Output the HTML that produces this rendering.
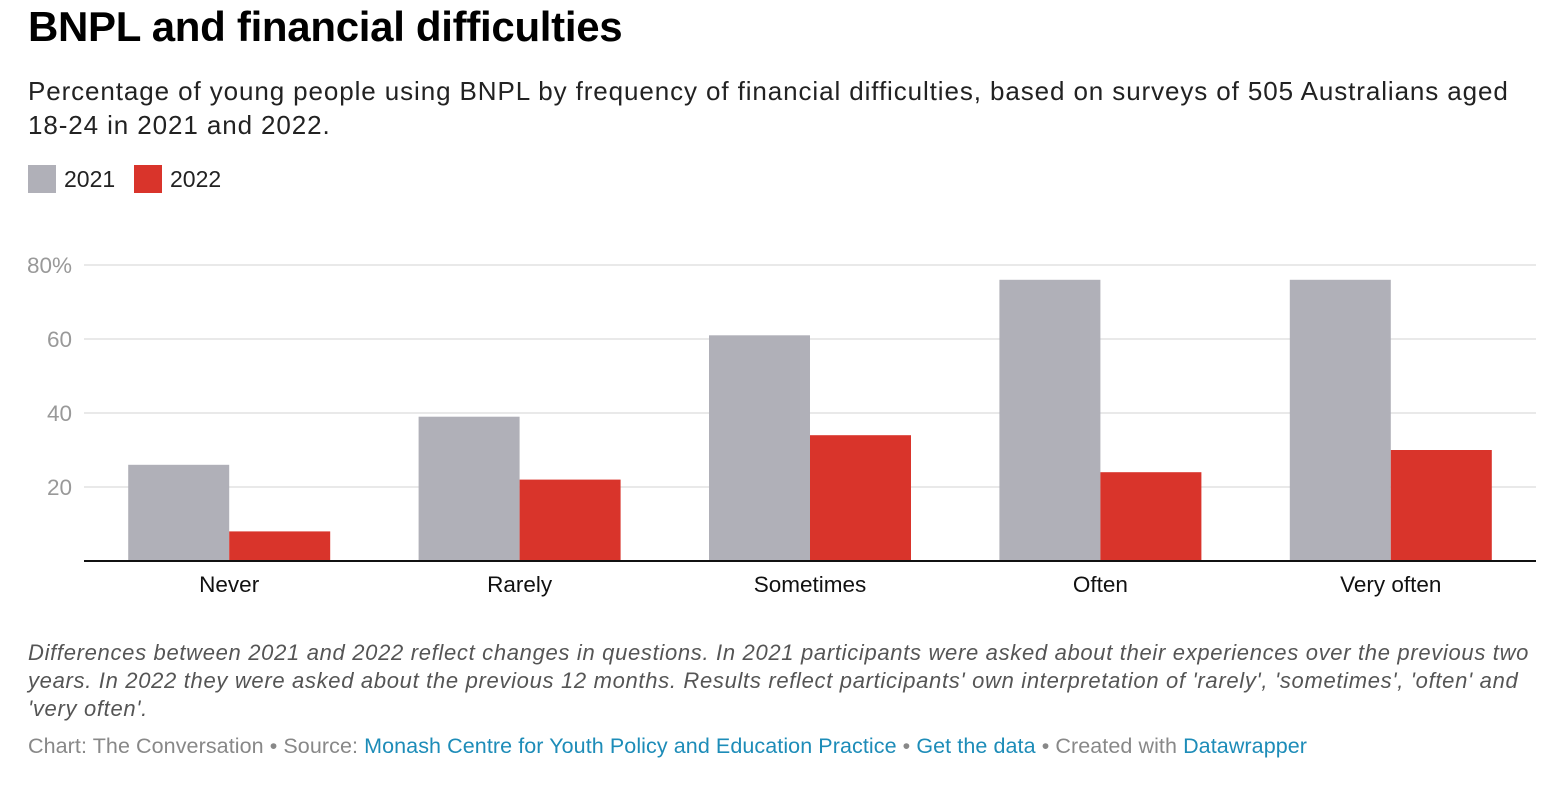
<!DOCTYPE html>
<html><head><meta charset="utf-8"><style>
body{margin:0;width:1566px;height:798px;background:#fff;font-family:"Liberation Sans",sans-serif;position:relative;overflow:hidden}
.t{position:absolute;left:28px;top:3px;font-size:42px;font-weight:bold;color:#000;letter-spacing:-0.3px;white-space:nowrap}
.s{position:absolute;left:28px;top:74px;width:1530px;font-size:26px;line-height:34px;color:#222;white-space:nowrap;letter-spacing:0.9px}
.lg{position:absolute;top:165px;font-size:23px;color:#222;display:flex;align-items:center}
.sw{width:28px;height:28px;margin-right:8px}
.n{position:absolute;left:28px;top:639px;width:1530px;font-size:22px;line-height:28px;font-style:italic;color:#555;letter-spacing:0.68px;white-space:nowrap}
.f{position:absolute;left:28px;top:734px;font-size:21.5px;color:#888;letter-spacing:0.08px;white-space:nowrap}
.f a{color:#1d8cb8;text-decoration:none}
</style></head><body>
<div class="t">BNPL and financial difficulties</div>
<div class="s">Percentage of young people using BNPL by frequency of financial difficulties, based on surveys of 505 Australians aged<br>18-24 in 2021 and 2022.</div>
<div class="lg" style="left:28px"><div class="sw" style="background:#b0b0b8"></div>2021</div>
<div class="lg" style="left:134px"><div class="sw" style="background:#d9342b"></div>2022</div>
<svg id="c" width="1566" height="798" style="position:absolute;left:0;top:0"></svg>
<div class="n">Differences between 2021 and 2022 reflect changes in questions. In 2021 participants were asked about their experiences over the previous two<br>years. In 2022 they were asked about the previous 12 months. Results reflect participants' own interpretation of 'rarely', 'sometimes', 'often' and<br>'very often'.</div>
<div class="f">Chart: The Conversation • Source: <a>Monash Centre for Youth Policy and Education Practice</a> • <a>Get the data</a> • Created with <a>Datawrapper</a></div>
<script>
const categories=["Never","Rarely","Sometimes","Often","Very often"];
const values2021=[26,39,61,76,76];
const values2022=[8,22,34,24,30];
const ticks=[20,40,60,80];
const tickLabels=["20","40","60","80%"];
const svg=document.getElementById('c');
const NS='http://www.w3.org/2000/svg';
const x0=84,x1=1536,yBase=561,yTop=265,vMax=80;
const y=v=>yBase-(yBase-yTop)*v/vMax;
const band=(x1-x0)/categories.length;
const bw=101;
function mk(t,a){const e=document.createElementNS(NS,t);for(const k in a)e.setAttribute(k,a[k]);svg.appendChild(e);return e;}
ticks.forEach((t,i)=>{
const l=mk('line',{x1:x0,x2:x1,y1:y(t),y2:y(t),stroke:'#e2e2e2','stroke-width':1.5});


const tx=mk('text',{x:72,y:y(t)+8,'text-anchor':'end','font-size':22.5,fill:'#999','font-family':'Liberation Sans, sans-serif'});
tx.textContent=tickLabels[i];


});
categories.forEach((c,i)=>{
const cx=x0+band*(i+0.5);
const a=mk('rect',{x:cx-bw,y:y(values2021[i]),width:bw,height:yBase-y(values2021[i]),fill:'#b0b0b8'});


const b=mk('rect',{x:cx,y:y(values2022[i]),width:bw,height:yBase-y(values2022[i]),fill:'#d9342b'});


const tx=mk('text',{x:cx,y:592,'text-anchor':'middle','font-size':22.5,fill:'#111','font-family':'Liberation Sans, sans-serif'});
tx.textContent=c;


});
const ax=mk('line',{x1:x0,x2:x1,y1:yBase,y2:yBase,stroke:'#111','stroke-width':2});


</script>
</body></html>
